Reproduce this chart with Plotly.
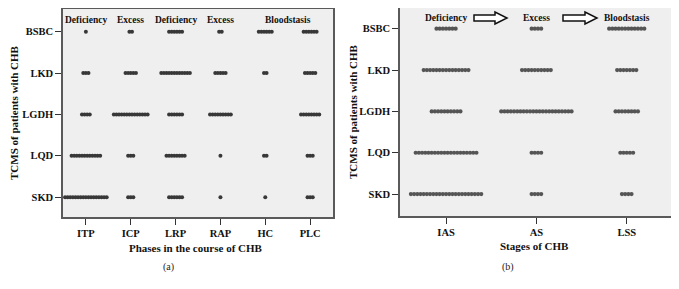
import plotly.graph_objects as go

# ---------------- data ----------------
syndromes = ["SKD", "LQD", "LGDH", "LKD", "BSBC"]          # bottom -> top
phases = ["ITP", "ICP", "LRP", "RAP", "HC", "PLC"]
stages = ["IAS", "AS", "LSS"]

# dot counts per syndrome for each phase (panel a)
skd_a = [17, 3, 6, 1, 1, 3]
lqd_a = [12, 3, 8, 1, 2, 3]
lgdh_a = [4, 14, 6, 9, 0, 8]
lkd_a = [3, 5, 12, 5, 2, 5]
bsbc_a = [1, 2, 6, 2, 6, 6]

# dot counts per syndrome for each stage (panel b)
skd_b = [23, 4, 4]
lqd_b = [20, 4, 5]
lgdh_b = [10, 23, 8]
lkd_b = [15, 10, 7]
bsbc_b = [7, 4, 12]

top_labels_a = ["Deficiency", "Excess", "Deficiency", "Excess", "Bloodstasis"]
top_labels_b = ["Deficiency", "Excess", "Bloodstasis"]

counts_a = [skd_a, lqd_a, lgdh_a, lkd_a, bsbc_a]
counts_b = [skd_b, lqd_b, lgdh_b, lkd_b, bsbc_b]

VW, VH = 679, 289       # browser window
OFF = 8                 # default body margin of the html page
W, H = VW - OFF, VH - OFF
SERIF = "Liberation Serif"


def dot_positions(counts, step):
    xs, ys = [], []
    for yi, row in enumerate(counts):
        for xi, n in enumerate(row):
            for k in range(n):
                xs.append(xi + (k - (n - 1) / 2) * step)
                ys.append(yi)
    return xs, ys


fig = go.Figure()

xa, ya = dot_positions(counts_a, 0.058)
fig.add_trace(go.Scatter(x=xa, y=ya, mode="markers", xaxis="x", yaxis="y",
                         marker=dict(size=4, color="#383838", line=dict(width=0)),
                         showlegend=False, hoverinfo="skip"))
xb, yb = dot_positions(counts_b, 0.0354)
fig.add_trace(go.Scatter(x=xb, y=yb, mode="markers", xaxis="x2", yaxis="y2",
                         marker=dict(size=4.2, color="#555555", line=dict(width=0)),
                         showlegend=False, hoverinfo="skip"))


def px2x(px):
    return min(1.0, max(0.0, (px - OFF) / W))


def px2y(py):
    return min(1.0, max(0.0, 1 - (py - OFF) / H))


axis_common = dict(showgrid=False, zeroline=False, showline=True, mirror=True,
                   linecolor="#5a5a5a", linewidth=1.5, ticks="outside",
                   ticklen=6, tickwidth=1, tickcolor="#333", automargin=False,
                   tickfont=dict(family=SERIF, size=10.5, color="#111"))

fig.update_layout(
    width=W, height=H, margin=dict(l=0, r=0, t=0, b=0, autoexpand=False),
    paper_bgcolor="white", plot_bgcolor="#efefef",
    xaxis=dict(domain=[px2x(63), px2x(333)], range=[-0.51, 5.51], anchor="y",
               tickvals=list(range(len(phases))),
               ticktext=[f"<b>{p}</b>" for p in phases], **axis_common),
    yaxis=dict(domain=[px2y(217), px2y(9)], range=[-0.48, 4.55], anchor="x",
               tickvals=list(range(len(syndromes))),
               ticktext=[f"<b>{s}</b>" for s in syndromes], **axis_common),
    xaxis2=dict(domain=[px2x(400), px2x(671)], range=[-0.51, 2.49], anchor="y2",
                tickvals=list(range(len(stages))),
                ticktext=[f"<b>{s}</b>" for s in stages], **axis_common),
    yaxis2=dict(domain=[px2y(216), px2y(8)], range=[-0.53, 4.5], anchor="x2",
                tickvals=list(range(len(syndromes))),
                ticktext=[f"<b>{s}</b>" for s in syndromes], **axis_common),
)

lab_font = dict(family=SERIF, size=9.5, color="#111")
ann = []
pos_a = [0, 1, 2, 3, 4.5]
for lab, xv in zip(top_labels_a, pos_a):
    ann.append(dict(x=xv, y=px2y(20), xref="x", yref="paper", text=f"<b>{lab}</b>",
                    xanchor="center", yanchor="middle", showarrow=False, font=lab_font))
for i, lab in enumerate(top_labels_b):
    ann.append(dict(x=i, y=px2y(18), xref="x2", yref="paper", text=f"<b>{lab}</b>",
                    xanchor="center", yanchor="middle", showarrow=False, font=lab_font))

title_font = dict(family=SERIF, size=11, color="#111")


def paper_text(px, py, text, font, angle=0):
    return dict(x=px2x(px), y=px2y(py), xref="paper", yref="paper", text=text,
                xanchor="center", yanchor="middle", textangle=angle,
                showarrow=False, font=font)


ann += [
    paper_text(14, 113, "<b>TCMS of patients with CHB</b>", title_font, -90),
    paper_text(353, 112, "<b>TCMS of patients with CHB</b>", title_font, -90),
    paper_text(196, 248, "<b>Phases in the course of CHB</b>", title_font),
    paper_text(534, 246, "<b>Stages of CHB</b>", title_font),
    paper_text(168, 267, "(a)", dict(family=SERIF, size=10, color="#222")),
    paper_text(508, 267, "(b)", dict(family=SERIF, size=10, color="#222")),
]
fig.update_layout(annotations=ann)


def arrow_path(x0, x1, yc):
    xh = x1 - 12
    pts = [(x0, yc - 3), (xh, yc - 3), (xh, yc - 6), (x1, yc), (xh, yc + 6), (xh, yc + 3), (x0, yc + 3)]
    return "M " + " L ".join(f"{px2x(a):.5f},{px2y(b):.5f}" for a, b in pts) + " Z"


shapes = []
for x0, x1 in [(474, 507), (563, 597)]:
    shapes.append(dict(type="path", path=arrow_path(x0, x1, 18), xref="paper", yref="paper",
                       line=dict(color="#111", width=1.5), fillcolor="white"))
fig.update_layout(shapes=shapes)

fig.write_html("out.html")
